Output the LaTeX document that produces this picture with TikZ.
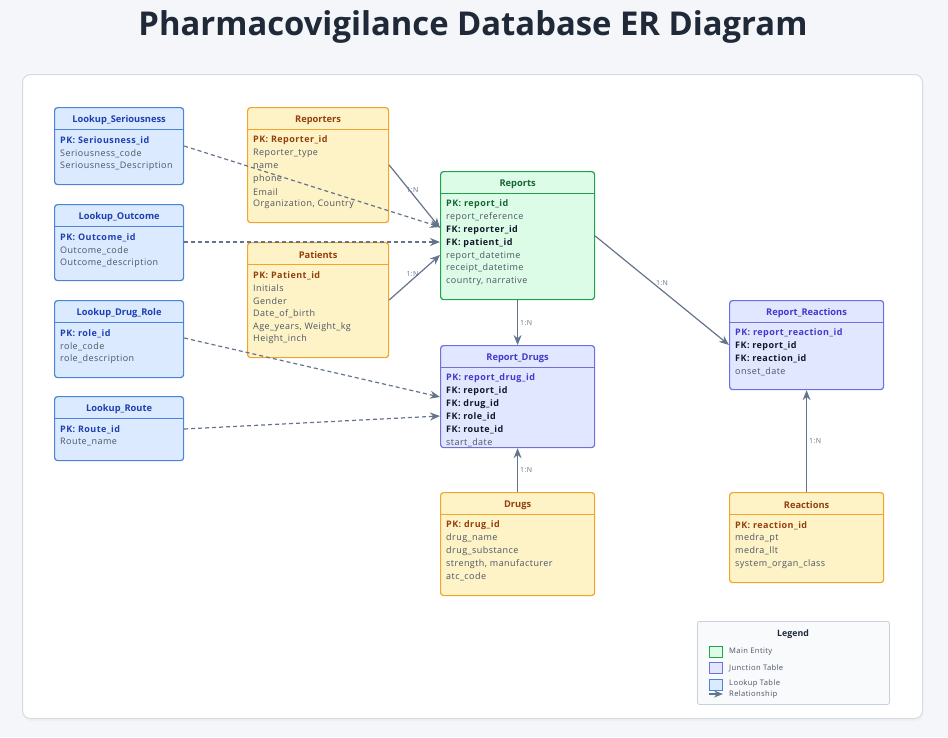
\documentclass[tikz,border=0pt]{standalone}
\usepackage{fontspec}
\setmainfont{Open Sans}
\newfontfamily\ffont{Open Sans}[LetterSpace=5]
\usetikzlibrary{calc,arrows.meta}
\definecolor{pagebg}{HTML}{F4F6F9}
\definecolor{panelline}{HTML}{D5DBE3}
\definecolor{titlecol}{HTML}{1F2937}
\definecolor{lkfill}{HTML}{DBEAFE}\definecolor{lkdraw}{HTML}{4A84DA}\definecolor{lkpk}{HTML}{1E40AF}
\definecolor{yefill}{HTML}{FEF3C7}\definecolor{yedraw}{HTML}{F2A52A}\definecolor{yepk}{HTML}{92400E}
\definecolor{grfill}{HTML}{DCFCE7}\definecolor{grdraw}{HTML}{1FA34F}\definecolor{grpk}{HTML}{166534}
\definecolor{pufill}{HTML}{E0E7FF}\definecolor{pudraw}{HTML}{6F6FDF}\definecolor{pupk}{HTML}{4338CA}
\definecolor{fieldcol}{HTML}{4B5563}
\definecolor{fkcol}{HTML}{111827}
\definecolor{relcol}{HTML}{64748B}
\definecolor{legfill}{HTML}{F8FAFC}
\definecolor{legdraw}{HTML}{C8D0DA}
\colorlet{pkcol}{black}
\newcommand\pk[1]{{\bfseries\color{pkcol}#1}}
\newcommand\fk[1]{{\bfseries\color{fkcol}#1}}
\newcommand\fd[1]{{\color{fieldcol}#1}}
\tikzset{
  entbox/.style={rectangle, rounded corners=3pt, line width=1.2pt, inner sep=0pt},
  lk/.style={entbox, fill=lkfill, draw=lkdraw},
  ye/.style={entbox, fill=yefill, draw=yedraw},
  gr/.style={entbox, fill=grfill, draw=grdraw},
  pu/.style={entbox, fill=pufill, draw=pudraw},
  lkline/.style={draw=lkdraw, line width=1pt},
  yeline/.style={draw=yedraw, line width=1pt},
  grline/.style={draw=grdraw, line width=1pt},
  puline/.style={draw=pudraw, line width=1pt},
  enttitle/.style={font=\fontsize{9.3}{11}\selectfont\bfseries, inner sep=0pt},
  lktitle/.style={enttitle, text=lkpk},
  yetitle/.style={enttitle, text=yepk},
  grtitle/.style={enttitle, text=grpk},
  putitle/.style={enttitle, text=pupk},
  field/.style={anchor=west, inner sep=0pt, font=\ffont\fontsize{9}{10}\selectfont},
  rel/.style={draw=relcol, line width=1.2pt, -{Stealth[length=10pt,width=8pt]}},
  dashrel/.style={rel, dash pattern=on 4pt off 3pt},
  lbl/.style={font=\ffont\fontsize{7}{8}\selectfont, text=relcol, inner sep=1pt},
  legtext/.style={anchor=west, inner sep=0pt, font=\ffont\fontsize{7.6}{9}\selectfont, text=fieldcol},
}
\newcommand\entity[8]{%
  \node[#6, minimum width=#4pt, minimum height=#5pt, anchor=north west] (#1) at (#2,#3) {};
  \draw[#6line] ($(#1.north west)+(0,22)$) -- ($(#1.north east)+(0,22)$);
  \node[#6title] (#1-t) at ($(#1.north)+(0,13)$) {#7};
  \colorlet{pkcol}{#6pk}%
  \foreach \f [count=\i] in {#8} {\node[field] (#1-f\i) at ($(#1.north west)+(6,20.7+12.8*\i)$) {\f};}
}
\begin{document}
\begin{tikzpicture}[x=1pt,y=-1pt]
\useasboundingbox (0,0) rectangle (948,737);
\fill[pagebg] (0,0) rectangle (948,737);
\node[font=\fontsize{32.8}{36}\selectfont\bfseries, text=titlecol, inner sep=0pt] (title) at (473,27) {Pharmacovigilance Database ER Diagram};
% panel
\fill[black!6, rounded corners=8pt] (23,77) rectangle (923,721);
\node[rectangle, rounded corners=8pt, fill=white, draw=panelline, line width=1pt, minimum width=900pt, minimum height=644pt, anchor=north west] (panel) at (22,74) {};

% lookup tables
\entity{seriousness}{54}{107}{129}{77}{lk}{Lookup\_Seriousness}{\pk{PK: Seriousness\_id}, \fd{Seriousness\_code}, \fd{Seriousness\_Description}}
\entity{outcome}{54}{204}{129}{76}{lk}{Lookup\_Outcome}{\pk{PK: Outcome\_id}, \fd{Outcome\_code}, \fd{Outcome\_description}}
\entity{drugrole}{54}{300}{129}{77}{lk}{Lookup\_Drug\_Role}{\pk{PK: role\_id}, \fd{role\_code}, \fd{role\_description}}
\entity{route}{54}{396}{129}{64}{lk}{Lookup\_Route}{\pk{PK: Route\_id}, \fd{Route\_name}}

% yellow
\entity{reporters}{247}{107}{141}{115}{ye}{Reporters}{\pk{PK: Reporter\_id}, \fd{Reporter\_type}, \fd{name}, \fd{phone}, \fd{Email}, \fd{Organization, Country}}
\entity{patients}{247}{242}{141}{115}{ye}{Patients}{\pk{PK: Patient\_id}, \fd{Initials}, \fd{Gender}, \fd{Date\_of\_birth}, \fd{Age\_years, Weight\_kg}, \fd{Height\_inch}}
\entity{drugs}{440}{492}{154}{103}{ye}{Drugs}{\pk{PK: drug\_id}, \fd{drug\_name}, \fd{drug\_substance}, \fd{strength, manufacturer}, \fd{atc\_code}}
\entity{reactions}{729}{492}{154}{90}{ye}{Reactions}{\pk{PK: reaction\_id}, \fd{medra\_pt}, \fd{medra\_llt}, \fd{system\_organ\_class}}

% main
\entity{reports}{440}{171}{154}{128}{gr}{Reports}{\pk{PK: report\_id}, \fd{report\_reference}, \fk{FK: reporter\_id}, \fk{FK: patient\_id}, \fd{report\_datetime}, \fd{receipt\_datetime}, \fd{country, narrative}}

% junction
\entity{reportdrugs}{440}{345}{154}{102}{pu}{Report\_Drugs}{\pk{PK: report\_drug\_id}, \fk{FK: report\_id}, \fk{FK: drug\_id}, \fk{FK: role\_id}, \fk{FK: route\_id}, \fd{start\_date}}
\entity{reportreactions}{729}{300}{154}{89}{pu}{Report\_Reactions}{\pk{PK: report\_reaction\_id}, \fk{FK: report\_id}, \fk{FK: reaction\_id}, \fd{onset\_date}}

% relationships
\draw[dashrel] ($(seriousness.north east)+(0,39)$) -- ($(reports.north west)+(0,56)$);
\draw[dashrel] ($(outcome.north east)+(0,38)$) -- ($(reports.north west)+(0,71)$);
\draw[dashrel] ($(drugrole.north east)+(0,38)$) -- ($(reportdrugs.north west)+(0,52)$);
\draw[dashrel] ($(route.north east)+(0,33)$) -- ($(reportdrugs.north west)+(0,71)$);

\draw[rel] ($(reporters.north east)+(0,58)$) -- node[lbl, pos=0.46, yshift=4pt] (l1) {1:N} ($(reports.north west)+(0,57)$);
\draw[rel] ($(patients.north east)+(0,58)$) -- node[lbl, pos=0.46, yshift=5pt] (l2) {1:N} ($(reports.north west)+(0,84)$);
\draw[rel] (reports.south) -- node[lbl, right=1pt] (l3) {1:N} (reportdrugs.north);
\draw[rel] (drugs.north) -- node[lbl, right=1pt] (l4) {1:N} (reportdrugs.south);
\draw[rel] ($(reports.north east)+(0,65)$) -- node[lbl, pos=0.5, yshift=7pt] (l5) {1:N} ($(reportreactions.north west)+(0,45)$);
\draw[rel] (reactions.north) -- node[lbl, right=1pt] (l6) {1:N} (reportreactions.south);

% legend
\node[rectangle, rounded corners=2pt, fill=legfill, draw=legdraw, line width=0.8pt, minimum width=192pt, minimum height=83pt, anchor=north west] (legend) at (697,621) {};
\node[font=\fontsize{8.8}{10}\selectfont\bfseries, text=titlecol, inner sep=0pt] (legt) at (793,634) {Legend};
\node[rectangle, fill=grfill, draw=grdraw, line width=1pt, minimum width=13pt, minimum height=11pt, inner sep=0pt] (lg1) at (715.5,651.5) {};
\node[rectangle, fill=pufill, draw=pudraw, line width=1pt, minimum width=13pt, minimum height=11pt, inner sep=0pt] (lg2) at (715.5,668) {};
\node[rectangle, fill=lkfill, draw=lkdraw, line width=1pt, minimum width=13pt, minimum height=11pt, inner sep=0pt] (lg3) at (715.5,684.5) {};
\coordinate (lg4a) at (709,694);
\coordinate (lg4b) at (723,694);
\draw[draw=relcol, line width=1.2pt, -{Stealth[length=9pt,width=7pt]}] (lg4a) -- (lg4b);
\node[legtext] (lt1) at (729,652) {Main Entity};
\node[legtext] (lt2) at (729,668) {Junction Table};
\node[legtext] (lt3) at (729,684) {Lookup Table};
\node[legtext] (lt4) at (729,695) {Relationship};
\end{tikzpicture}
\end{document}
